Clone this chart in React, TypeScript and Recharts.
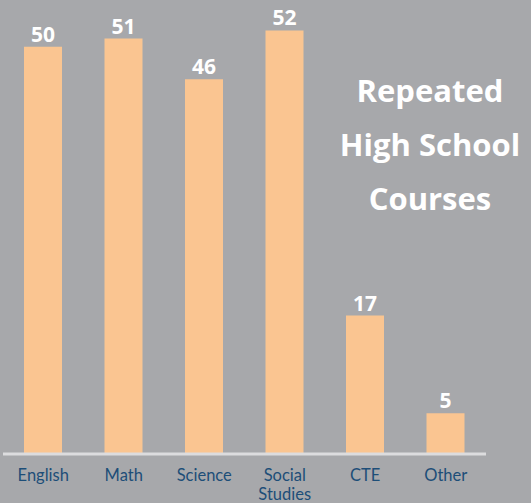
import React from "react";
import { BarChart, Bar, XAxis, YAxis, LabelList } from "recharts";

const categories = ["English", "Math", "Science", "Social Studies", "CTE", "Other"];
const counts = [50, 51, 46, 52, 17, 5];
const titleLines = ["Repeated", "High School", "Courses"];

const data = categories.map((name, i) => ({ name, value: counts[i] }));

const BG = "#a7a8ab";
const BAR = "#fac591";
const TICK = "#1d4e78";
const FONT = "'Open Sans', sans-serif";
const TICK_FONT = "Lato, 'Open Sans', sans-serif";

// wraps "Social Studies" onto two lines, one text element
const WrappedTick = (props: any) => {
  const { x, y, payload } = props;
  const words = String(payload.value).split(" ");
  return (
    <text
      x={x}
      y={y + 18.5}
      textAnchor="middle"
      fill={TICK}
      fontSize={16.5}
      fontFamily={TICK_FONT}
    >
      {words.map((w: string, i: number) => (
        <tspan key={w} x={x} dy={i === 0 ? 0 : 19.5}>
          {w}
        </tspan>
      ))}
    </text>
  );
};

const App = () => {
  return (
    <div
      style={{
        position: "absolute",
        top: 0,
        left: 0,
        width: 531,
        height: 503,
        background: BG,
        overflow: "hidden",
      }}
    >
      <BarChart
        width={531}
        height={503}
        data={data}
        margin={{ top: 6, right: 45, left: 3, bottom: 0 }}
      >
        <XAxis
          dataKey="name"
          height={49}
          tickLine={false}
          axisLine={{ stroke: "#dcdcde", strokeWidth: 3 }}
          tick={<WrappedTick />}
          interval={0}
        />
        <YAxis hide domain={[0, 55]} />
        <Bar dataKey="value" fill={BAR} barSize={38} isAnimationActive={false}>
          <LabelList
            dataKey="value"
            position="top"
            offset={5}
            fill="#ffffff"
            fontSize={21}
            fontWeight={700}
            fontFamily={FONT}
          />
        </Bar>
      </BarChart>
      <div
        style={{
          position: "absolute",
          left: 320,
          top: 63,
          width: 220,
          textAlign: "center",
          color: "#ffffff",
          fontFamily: FONT,
          fontWeight: 700,
          fontSize: 31,
          lineHeight: "54px",
        }}
      >
        {titleLines.map((t) => (
          <div key={t}>{t}</div>
        ))}
      </div>
    </div>
  );
};

export default App;
